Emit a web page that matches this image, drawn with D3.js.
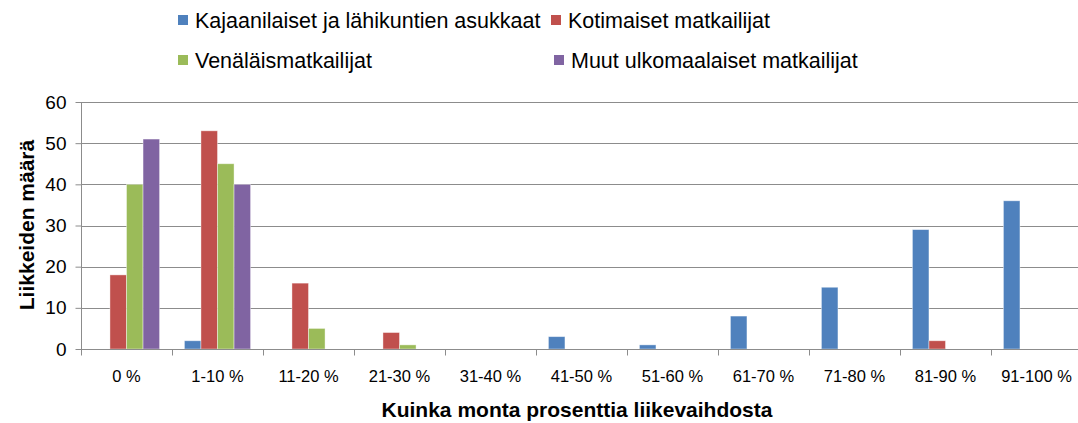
<!DOCTYPE html>
<html>
<head>
<meta charset="utf-8">
<script src="https://cdn.jsdelivr.net/npm/d3@7"></script>
<style>
body { margin: 0; background: #fff; }
text { font-family: "Liberation Sans", Arial, sans-serif; fill: #000; }
</style>
</head>
<body>
<svg id="chart" width="1078" height="423"></svg>
<script>
// data
var categories = ["0 %", "1-10 %", "11-20 %", "21-30 %", "31-40 %", "41-50 %", "51-60 %", "61-70 %", "71-80 %", "81-90 %", "91-100 %"];
var seriesNames = ["Kajaanilaiset ja lähikuntien asukkaat", "Kotimaiset matkailijat", "Venäläismatkailijat", "Muut ulkomaalaiset matkailijat"];
var colors = ["#4F81BD", "#C0504D", "#9BBB59", "#8064A2"];
var kajaani    = [0, 2, 0, 0, 0, 3, 1, 8, 15, 29, 36];
var kotimaiset = [18, 53, 16, 4, 0, 0, 0, 0, 0, 2, 0];
var venalaiset = [40, 45, 5, 1, 0, 0, 0, 0, 0, 0, 0];
var muut       = [51, 40, 0, 0, 0, 0, 0, 0, 0, 0, 0];
var yTicks = [0, 10, 20, 30, 40, 50, 60];
var series = [kajaani, kotimaiset, venalaiset, muut];

var svg = d3.select("#chart");
var plotL = 81, plotR = 1082, plotT = 102, plotB = 349;

var x = d3.scaleBand().domain(categories).range([plotL, plotR]).paddingInner(0).paddingOuter(0);
var y = d3.scaleLinear().domain([0, 60]).range([plotB, plotT]);
// 4 bars, gap = 1.5 bar widths
var bw = x.bandwidth() / 5.5;
var xs = d3.scaleBand().domain(d3.range(4)).range([bw * 0.75, bw * 4.75]);

// gridlines
svg.append("g").selectAll("line").data(yTicks.slice(1)).join("line")
  .attr("x1", plotL).attr("x2", plotR)
  .attr("y1", function(d){ return Math.round(y(d)) + 0.5; })
  .attr("y2", function(d){ return Math.round(y(d)) + 0.5; })
  .attr("stroke", "#8c8c8c").attr("stroke-width", 1);

// bars
series.forEach(function(vals, s) {
  var pts = vals.map(function(v, i){ return {cat: categories[i], v: v}; })
    .filter(function(d){ return d.v > 0; });
  svg.append("g").selectAll("rect").data(pts).join("rect")
    .attr("x", function(d){ return x(d.cat) + xs(s); })
    .attr("width", xs.bandwidth())
    .attr("y", function(d){ return y(d.v); })
    .attr("height", function(d){ return y(0) - y(d.v); })
    .attr("fill", colors[s])
    .attr("stroke", "#ffffff").attr("stroke-opacity", 0.5).attr("stroke-width", 0.8);
});

// y axis
var yAxis = d3.axisLeft(y).tickValues(yTicks).tickSize(6).tickPadding(9);
var gy = svg.append("g").attr("transform", "translate(" + (plotL + 0.5) + ",0)").call(yAxis);
gy.selectAll("path, line").attr("stroke", "#8c8c8c");
gy.select(".domain").attr("d", "M0," + plotT + "V" + plotB);
gy.selectAll("text").attr("font-size", 19).attr("font-family", "Liberation Sans, Arial").attr("fill", "#000");

// x axis
var xAxis = d3.axisBottom(x).tickSize(0).tickPadding(21);
var gx = svg.append("g").attr("transform", "translate(0," + (plotB + 0.5) + ")").call(xAxis);
gx.select(".domain").attr("stroke", "#8c8c8c").attr("d", "M" + plotL + ",0H" + plotR);
gx.selectAll("text").attr("font-size", 16.5).attr("font-family", "Liberation Sans, Arial").attr("fill", "#000");
// category boundary ticks
gx.append("g").selectAll("line").data(categories.concat(["end"])).join("line")
  .attr("x1", function(d, i){ return Math.round(plotL + i * x.bandwidth()) + 0.5; })
  .attr("x2", function(d, i){ return Math.round(plotL + i * x.bandwidth()) + 0.5; })
  .attr("y1", 0).attr("y2", 6).attr("stroke", "#8c8c8c");

// axis titles
svg.append("text").attr("x", 577).attr("y", 417).attr("text-anchor", "middle")
  .attr("font-size", 21).attr("font-weight", "bold")
  .text("Kuinka monta prosenttia liikevaihdosta");
svg.append("text").attr("transform", "translate(34,225) rotate(-90)").attr("text-anchor", "middle")
  .attr("font-size", 21).attr("font-weight", "bold")
  .text("Liikkeiden määrä");

// legend
var legendPos = [[178, 20], [551, 20], [178, 60], [554, 60]];
var lg = svg.append("g").selectAll("g").data(seriesNames).join("g")
  .attr("transform", function(d, i){ return "translate(" + legendPos[i][0] + "," + legendPos[i][1] + ")"; });
lg.append("rect").attr("x", 0).attr("y", -5).attr("width", 10).attr("height", 10)
  .attr("fill", function(d, i){ return colors[i]; });
lg.append("text").attr("x", 17).attr("y", 7.5).attr("font-size", 21.5).text(function(d){ return d; });
</script>
</body>
</html>
